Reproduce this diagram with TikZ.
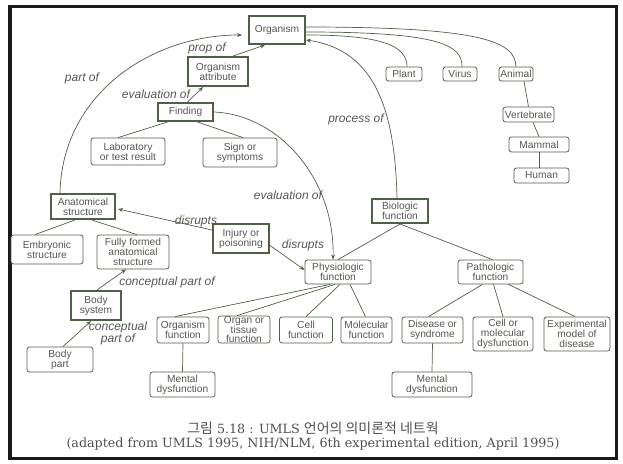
\documentclass[tikz,border=0pt]{standalone}
\usepackage{fontspec}
\setmainfont{DejaVu Serif}
\newfontfamily\nodefont{Liberation Sans}
\newfontfamily\kr[Scale=1.1]{Noto Sans CJK KR}
\usetikzlibrary{arrows.meta}
\definecolor{boxcol}{RGB}{78,96,70}
\definecolor{txtcol}{RGB}{85,88,82}
\definecolor{capcol}{RGB}{80,80,80}
\tikzset{
  base/.style={draw=boxcol, fill=white, inner sep=0pt, align=center, text=txtcol,
    font=\nodefont\fontsize{10.2}{9.9}\selectfont},
  thickbox/.style={base, line width=2pt},
  thinbox/.style={base, line width=0.8pt, rounded corners=2.5pt},
  conn/.style={draw=boxcol, line width=0.7pt},
  arr/.style={conn, -{Stealth[length=5pt,width=4pt]}},
  lbl/.style={text=txtcol, inner sep=0pt, align=center,
    font=\nodefont\itshape\fontsize{12}{11}\selectfont},
  sz/.style 2 args={minimum width=#1pt, minimum height=#2pt},
}
\begin{document}
\begin{tikzpicture}[x=1pt,y=-1pt]
\useasboundingbox (0,0) rectangle (623,463);
\draw[line width=3.5pt, color=black!90] (10,6.5) rectangle (616.5,458.5);

% nodes
\node[thickbox, sz={56}{28}] (org) at (277,30) {Organism};
\node[thickbox, sz={60}{29}] (attr) at (218,71.5) {Organism\\attribute};
\node[thickbox, sz={55}{18}] (find) at (185.5,112) {Finding};
\node[thinbox, sz={74}{27}] (lab) at (128,151.5) {Laboratory\\or test result};
\node[thinbox, sz={74}{29}] (sign) at (240,152.5) {Sign or\\symptoms};
\node[thickbox, sz={64}{25}] (anat) at (83,206.5) {Anatomical\\structure};
\node[thickbox, sz={56}{29}] (injury) at (241,238.5) {Injury or\\poisoning};
\node[thinbox, sz={72}{29}] (embr) at (47,249.5) {Embryonic\\structure};
\node[thinbox, sz={72}{34}] (fully) at (133,252) {Fully formed\\anatomical\\structure};
\node[thickbox, sz={50}{29}] (bsys) at (96,305.5) {Body\\system};
\node[thinbox, sz={66}{25}] (bpart) at (60,359.5) {Body\\part};
\node[thinbox, sz={52}{26}] (ofun) at (183,330) {Organism\\function};
\node[thinbox, sz={52}{27}] (otis) at (244,329.5) {Organ or\\tissue\\function};
\node[thinbox, sz={53}{26}] (cellf) at (306,330) {Cell\\function};
\node[thinbox, sz={51}{26}] (molf) at (366.5,330) {Molecular\\function};
\node[thinbox, sz={65}{25}] (ment1) at (182.5,384.5) {Mental\\dysfunction};
\node[thinbox, sz={66}{24}] (phys) at (338,272) {Physiologic\\function};
\node[thinbox, sz={65}{24}] (path) at (490.5,272) {Pathologic\\function};
\node[thickbox, sz={56}{24}] (bio) at (400,211) {Biologic\\function};
\node[thinbox, sz={61}{26}] (dis) at (432.5,330) {Disease or\\syndrome};
\node[thinbox, sz={60}{34}] (cmd) at (503,334) {Cell or\\molecular\\dysfunction};
\node[thinbox, sz={66}{34}] (exp) at (577,334) {Experimental\\model of\\disease};
\node[thinbox, sz={80}{25}] (ment2) at (432,384.5) {Mental\\dysfunction};
\node[thinbox, sz={36}{14}] (plant) at (404,74) {Plant};
\node[thinbox, sz={34}{14}] (virus) at (460,74) {Virus};
\node[thinbox, sz={34}{14}] (animal) at (516,74) {Animal};
\node[thinbox, sz={51}{15}] (vert) at (528.5,114.5) {Vertebrate};
\node[thinbox, sz={60}{15}] (mamm) at (539,144.5) {Mammal};
\node[thinbox, sz={55}{15}] (human) at (541.5,175.5) {Human};

% edge labels
\node[lbl] (lprop) at (207,48) {prop of};
\node[lbl] (lpart) at (82,78) {part of};
\node[lbl] (leval1) at (156,94) {evaluation of};
\node[lbl] (lproc) at (356,119) {process of};
\node[lbl] (leval2) at (288,195) {evaluation of};
\node[lbl] (ldis1) at (196,221) {disrupts};
\node[lbl] (ldis2) at (303,245) {disrupts};
\node[lbl] (lcp1) at (167,282) {conceptual part of};
\node[lbl] (lcp2) at (118,333) {conceptual\\part of};

% connectors
\draw[arr] ([xshift=15pt]attr.north) -- ([xshift=-12pt]org.south);
\draw[arr] ([xshift=2pt]find.north) -- ([xshift=-15pt]attr.south);
\draw[conn] ([xshift=-18pt]find.south) -- ([xshift=-10pt]lab.north);
\draw[conn] ([xshift=12pt]find.south) -- ([xshift=3pt]sign.north);
\draw[arr] ([xshift=-23pt]anat.north) .. controls (62,95) and (150,35) .. ([xshift=-6pt,yshift=-5pt]org.west);
\draw[arr] (find.east) .. controls (280,115) and (335,180) .. ([xshift=-5pt]phys.north);
\draw[arr] ([xshift=-3pt]bio.north) .. controls (395,110) and (375,50) .. ([yshift=-10pt]org.east);
\draw[conn] ([yshift=-5pt]org.east) .. controls (380,35) and (407,45) .. ([xshift=3pt]plant.north);
\draw[conn] ([yshift=-2pt]org.east) .. controls (440,32) and (462,45) .. ([xshift=2pt]virus.north);
\draw[conn] ([yshift=3pt]org.east) .. controls (485,27) and (515,42) .. (animal.north);
\draw[conn] ([xshift=8pt]animal.south) -- (vert.north);
\draw[conn] ([xshift=4.5pt]vert.south) -- (mamm.north);
\draw[conn] (mamm.south) -- ([xshift=-2.5pt]human.north);
\draw[conn] ([xshift=-8pt]anat.south) -- ([xshift=-12pt]embr.north);
\draw[conn] ([xshift=9pt]anat.south) -- ([xshift=4pt]fully.north);
\draw[arr] ([yshift=8.5pt]injury.west) -- ([xshift=2pt,yshift=-2.5pt]anat.east);
\draw[arr] ([yshift=-7pt]injury.east) -- ([yshift=2pt]phys.west);
\draw[arr] ([xshift=1pt]bsys.north) -- ([xshift=-7pt]fully.south);
\draw[arr] ([xshift=3pt]bpart.north) -- ([xshift=-5pt]bsys.south);
\draw[conn] (bio.south) -- (phys.north);
\draw[conn] (bio.south) -- ([xshift=2pt]path.north);
\draw[conn] ([xshift=-8pt]phys.south) -- ([xshift=-8pt]ofun.north);
\draw[conn] ([xshift=-3pt]phys.south) -- ([xshift=-7pt]otis.north);
\draw[conn] ([xshift=2pt]phys.south) -- (cellf.north);
\draw[conn] ([xshift=12pt]phys.south) -- ([xshift=-1pt]molf.north);
\draw[conn] ([xshift=-8pt]path.south) -- ([xshift=-4pt]dis.north);
\draw[conn] ([xshift=3pt]path.south) -- (cmd.north);
\draw[conn] ([xshift=18pt]path.south) -- ([xshift=-2pt]exp.north);
\draw[conn] (dis.south) -- (ment2.north);
\draw[conn] (ofun.south) -- (ment1.north);

% caption
\node[text=capcol, inner sep=0pt, font=\fontsize{12.7}{12.7}\selectfont] (cap1) at (313,428) {{\kr 그림} 5.18 : UMLS {\kr 언어의 의미론적 네트웍}};
\node[text=capcol, inner sep=0pt, font=\fontsize{12.7}{12.7}\selectfont] (cap2) at (313,444) {(adapted from UMLS 1995, NIH/NLM, 6th experimental edition, April 1995)};
\end{tikzpicture}
\end{document}
